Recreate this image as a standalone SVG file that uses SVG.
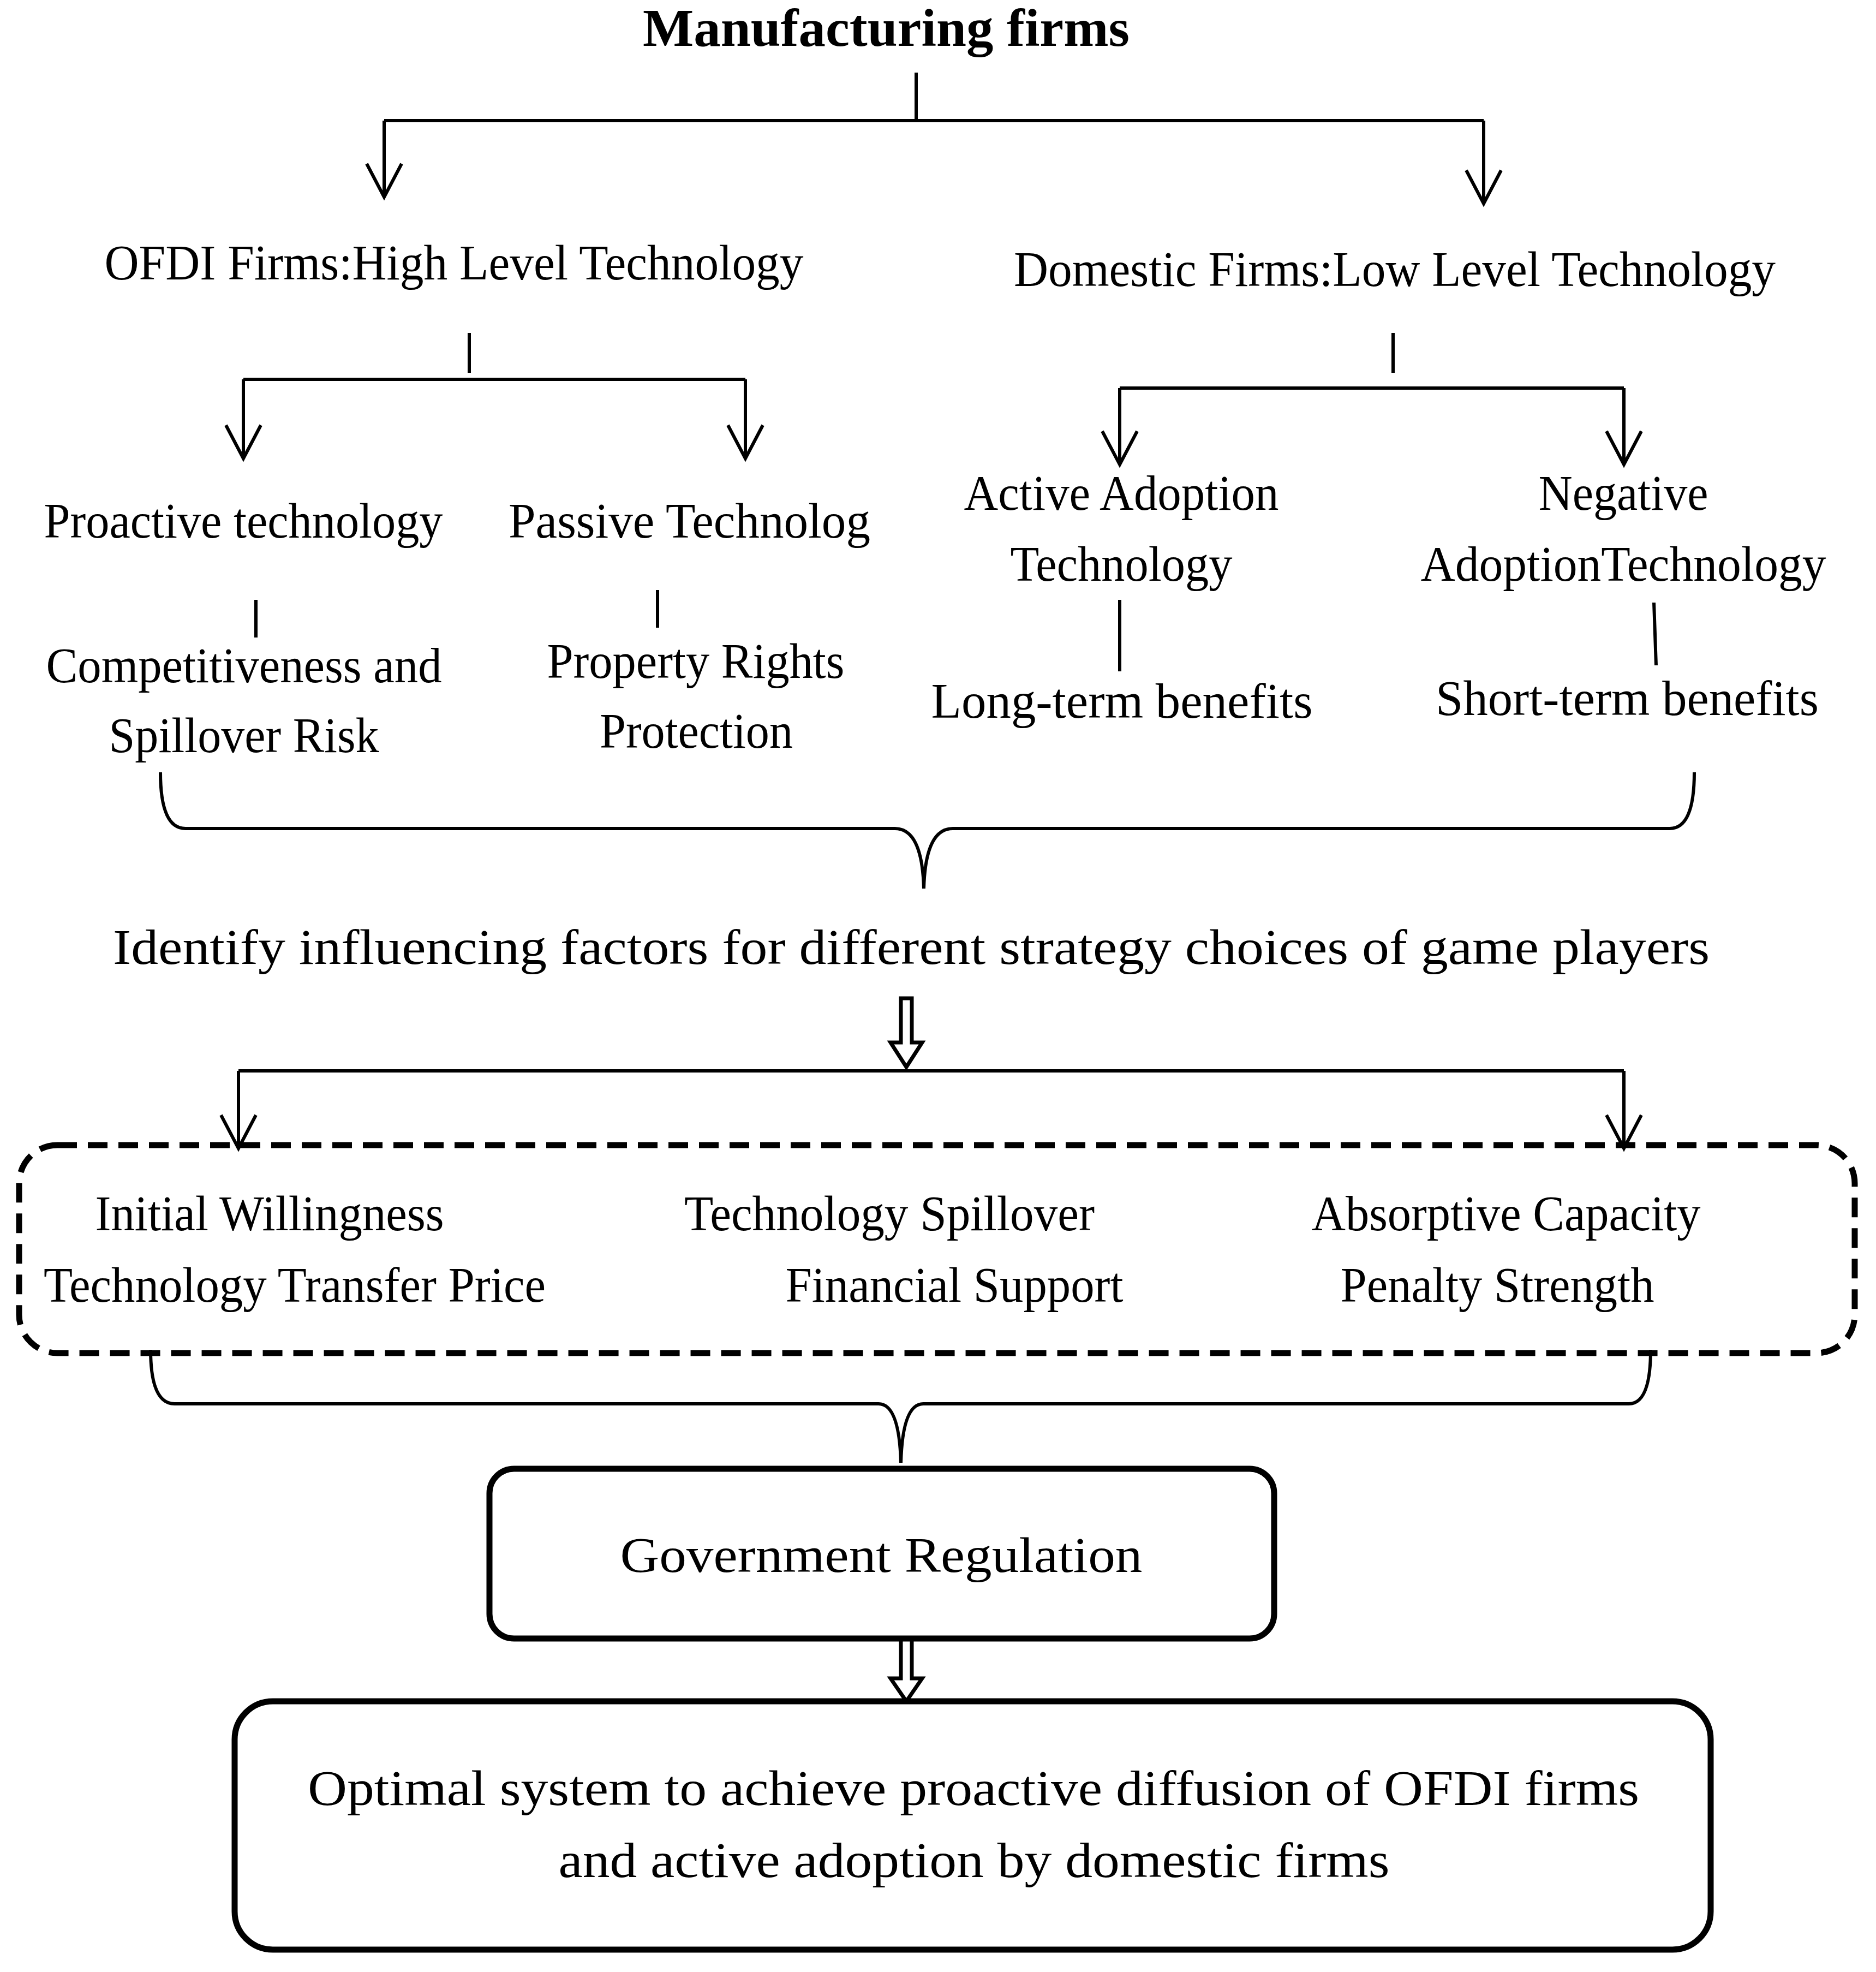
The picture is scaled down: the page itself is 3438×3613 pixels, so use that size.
<svg xmlns="http://www.w3.org/2000/svg" width="3438" height="3613" viewBox="0 0 3438 3613">
<style>
text{font-family:"Liberation Serif","Times New Roman",serif;font-size:92px;fill:#000;text-anchor:middle}
.ln{fill:none;stroke:#000;stroke-width:6}
.box{fill:#fff;stroke:#000;stroke-width:11}
</style>
<rect width="3438" height="3613" fill="#fff"/>
<g id="connectors" class="ln">
<path d="M1679 133V221M704 221H2719M704 221V361M2719 221V373"/>
<path d="M672 300L704 361L736 300M2687 312L2719 373L2751 312"/>
<path d="M860 610V683M446 695H1366M446 695V840M1366 695V840M414 779L446 840L478 779M1334 779L1366 840L1398 779"/>
<path d="M2553 610V683M2052 711H2976M2052 711V851M2976 711V851M2020 790L2052 851L2084 790M2944 790L2976 851L3008 790"/>
<path d="M469 1099V1168M1205 1081V1150M2052 1099V1230M3031 1104L3035 1219"/>
<path d="M294 1415Q294 1518 340 1518H1640Q1690 1518 1693 1628Q1696 1518 1746 1518H3060Q3105 1518 3105 1415"/>
<path d="M437 1962H2976M437 1962V2104M2976 1962V2104M405 2043L437 2104L469 2043M2944 2043L2976 2104L3008 2043"/>
<path d="M276 2473Q276 2572 320 2572H1610Q1648 2572 1651 2680Q1654 2572 1692 2572H2985Q3025 2572 3025 2473"/>
<polygon class="ln" points="1651,1829 1671,1829 1671,1910 1690,1910 1661,1955 1632,1910 1651,1910" style="fill:#fff;stroke-width:7"/>
<polygon class="ln" points="1651,2995 1671,2995 1671,3075 1690,3075 1661,3117 1632,3075 1651,3075" style="fill:#fff;stroke-width:7"/>
</g>
<g id="title"><text x="1624" y="84" style="font-weight:bold;font-size:97px" textLength="892" lengthAdjust="spacingAndGlyphs">Manufacturing firms</text></g>
<g id="ofdi"><text x="832" y="512" textLength="1281" lengthAdjust="spacingAndGlyphs">OFDI Firms:High Level Technology</text></g>
<g id="domestic"><text x="2556" y="524" textLength="1396" lengthAdjust="spacingAndGlyphs">Domestic Firms:Low Level Technology</text></g>
<g id="proactive"><text x="446" y="985" textLength="731" lengthAdjust="spacingAndGlyphs">Proactive technology</text></g>
<g id="passive"><text x="932" y="985" style="text-anchor:start" textLength="663" lengthAdjust="spacingAndGlyphs">Passive Technolog</text></g>
<g id="active"><text x="2055" y="934" textLength="577" lengthAdjust="spacingAndGlyphs">Active Adoption</text><text x="2055" y="1064" textLength="407" lengthAdjust="spacingAndGlyphs">Technology</text></g>
<g id="negative"><text x="2975" y="934" textLength="311" lengthAdjust="spacingAndGlyphs">Negative</text><text x="2975" y="1064" textLength="743" lengthAdjust="spacingAndGlyphs">AdoptionTechnology</text></g>
<g id="competitiveness"><text x="447" y="1250" textLength="725" lengthAdjust="spacingAndGlyphs">Competitiveness and</text><text x="447" y="1378" textLength="495" lengthAdjust="spacingAndGlyphs">Spillover Risk</text></g>
<g id="property"><text x="1275" y="1242" textLength="545" lengthAdjust="spacingAndGlyphs">Property Rights</text><text x="1276" y="1370" textLength="354" lengthAdjust="spacingAndGlyphs">Protection</text></g>
<g id="long"><text x="2056" y="1315" textLength="699" lengthAdjust="spacingAndGlyphs">Long-term benefits</text></g>
<g id="short"><text x="2982" y="1310" textLength="702" lengthAdjust="spacingAndGlyphs">Short-term benefits</text></g>
<g id="identify"><text x="1670" y="1766" textLength="2926" lengthAdjust="spacingAndGlyphs">Identify influencing factors for different strategy choices of game players</text></g>
<g id="factors">
<rect x="35" y="2098" width="3364" height="381" rx="70" style="fill:none;stroke:#000;stroke-width:11;stroke-dasharray:36 20"/>
<text x="494" y="2254" textLength="639" lengthAdjust="spacingAndGlyphs">Initial Willingness</text>
<text x="540" y="2385" textLength="920" lengthAdjust="spacingAndGlyphs">Technology Transfer Price</text>
<text x="1630" y="2254" textLength="752" lengthAdjust="spacingAndGlyphs">Technology Spillover</text>
<text x="1749" y="2385" textLength="619" lengthAdjust="spacingAndGlyphs">Financial Support</text>
<text x="2760" y="2254" textLength="713" lengthAdjust="spacingAndGlyphs">Absorptive Capacity</text>
<text x="2744" y="2385" textLength="575" lengthAdjust="spacingAndGlyphs">Penalty Strength</text>
</g>
<g id="government"><rect class="box" x="897" y="2691" width="1438" height="311" rx="45"/><text x="1615" y="2880" textLength="957" lengthAdjust="spacingAndGlyphs">Government Regulation</text></g>
<g id="optimal"><rect class="box" x="430" y="3117" width="2705" height="455" rx="70"/>
<text x="1784" y="3307" textLength="2440" lengthAdjust="spacingAndGlyphs">Optimal system to achieve proactive diffusion of OFDI firms</text>
<text x="1785" y="3439" textLength="1523" lengthAdjust="spacingAndGlyphs">and active adoption by domestic firms</text></g>
</svg>
